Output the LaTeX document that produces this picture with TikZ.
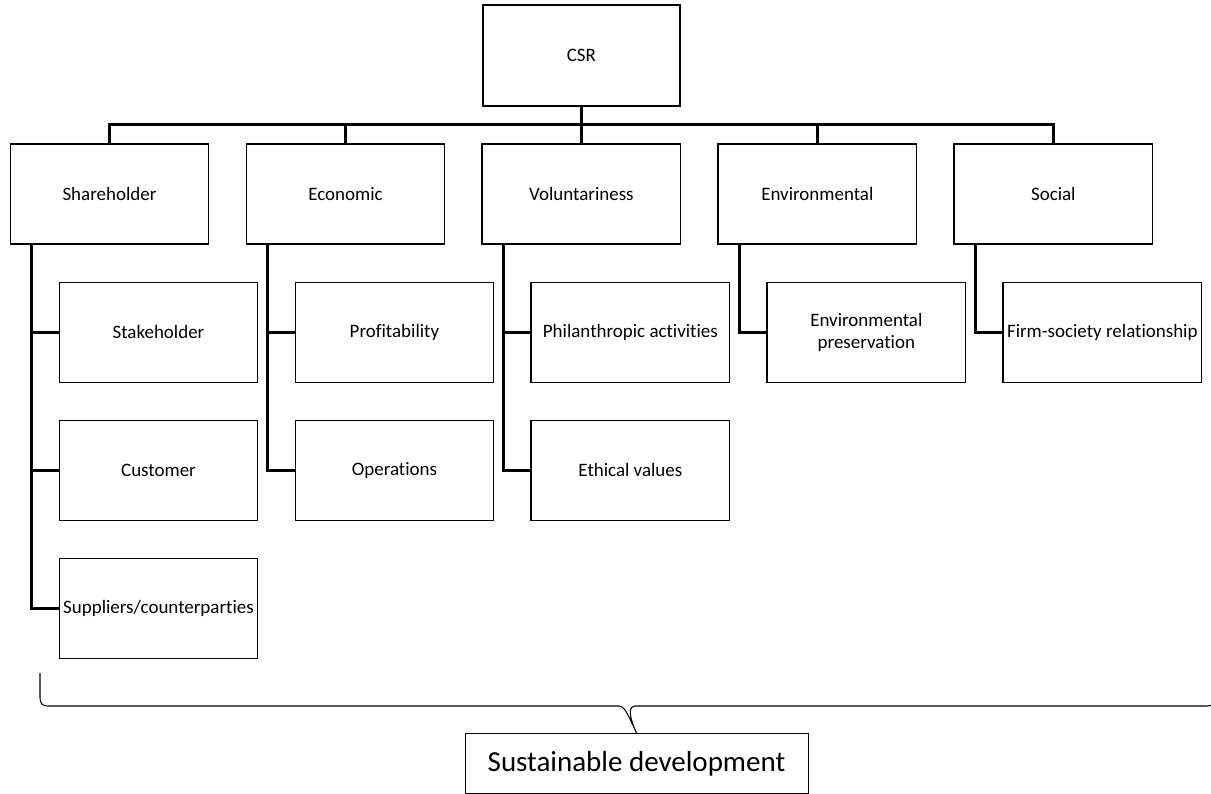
\documentclass[tikz,border=0pt]{standalone}
\usepackage{fontspec}
\setmainfont{Carlito}[Ligatures=NoCommon]
\usetikzlibrary{positioning}

\tikzset{
  box/.style={draw, rectangle, line width=0.8pt, minimum width=3.97cm, minimum height=2cm,
    inner sep=0.5pt, align=center, font=\fontsize{10.8}{13}\selectfont},
  link/.style={line width=1.4pt},
}

\begin{document}
\begin{tikzpicture}[node distance=2.77cm, x=0.02cm, y=-0.02cm]

        \useasboundingbox (0,0) rectangle (1211,794);
        \clip (0,0) rectangle (1211,794);

        % first level
        \node (shr) [box] at (109.5,194) {Shareholder};
        \node (econ) [box, node distance=4.72cm, right of=shr] {Economic};
        \node (vol) [box, node distance=4.72cm, right of=econ] {Voluntariness};
        \node (env) [box, node distance=4.72cm, right of=vol] {Environmental};
        \node (soc) [box, node distance=4.72cm, right of=env] {Social};

        \node (csr) [box, minimum width=3.94cm, minimum height=2.02cm, above of=vol] {CSR};

        % second level
        \node (stake) [box, below of=shr, xshift=0.98cm] {Stakeholder};
        \node (cust) [box, node distance=2.76cm, below of=stake] {Customer};
        \node (supp) [box, node distance=2.76cm, below of=cust] {Suppliers/counterparties};

        \node (prof) [box, below of=econ, xshift=0.98cm] {Profitability};
        \node (oper) [box, node distance=2.76cm, below of=prof] {Operations};

        \node (phil) [box, below of=vol, xshift=0.98cm] {Philanthropic activities};
        \node (ethic) [box, node distance=2.76cm, below of=phil] {Ethical values};

        \node (pres) [box, below of=env, xshift=0.98cm] {Environmental\\preservation};
        \node (firm) [box, below of=soc, xshift=0.98cm] {Firm-society relationship};

        \node (sust) [draw, line width=0.5pt, minimum width=6.86cm, minimum height=1.2cm, anchor=north,
            font=\fontsize{16.5}{20}\selectfont] at (636.5,733) {Sustainable development};

        % tree lines
        \draw [link] (shr.north) -- ++(0,-19) -| (soc.north);
        \draw [link] (econ.north) -- ++(0,-19);
        \draw [link] (env.north) -- ++(0,-19);
        \draw [link] (csr.south) -- (vol.north);

        \draw [link] ([xshift=0.44cm] shr.south west) |- (stake.west);
        \draw [link] ([xshift=0.44cm] shr.south west) |- (cust.west);
        \draw [link] ([xshift=0.44cm] shr.south west) |- (supp.west);
        \draw [link] ([xshift=0.44cm] econ.south west) |- (prof.west);
        \draw [link] ([xshift=0.44cm] econ.south west) |- (oper.west);
        \draw [link] ([xshift=0.44cm] vol.south west) |- (phil.west);
        \draw [link] ([xshift=0.44cm] vol.south west) |- (ethic.west);
        \draw [link] ([xshift=0.44cm] env.south west) |- (pres.west);
        \draw [link] ([xshift=0.44cm] soc.south west) |- (firm.west);

        % brace
        \draw [line width=0.6pt] (40,673) -- (40,698) .. controls (40,704) and (43,706) .. (48,706)
            -- (619,706) .. controls (624,706) and (627,712) .. (sust.north)
            .. controls (627,712) and (630,706) .. (635,706) -- (1207,706)
            .. controls (1212,706) and (1215,704) .. (1215,698) -- (1215,673);

\end{tikzpicture}
\end{document}
